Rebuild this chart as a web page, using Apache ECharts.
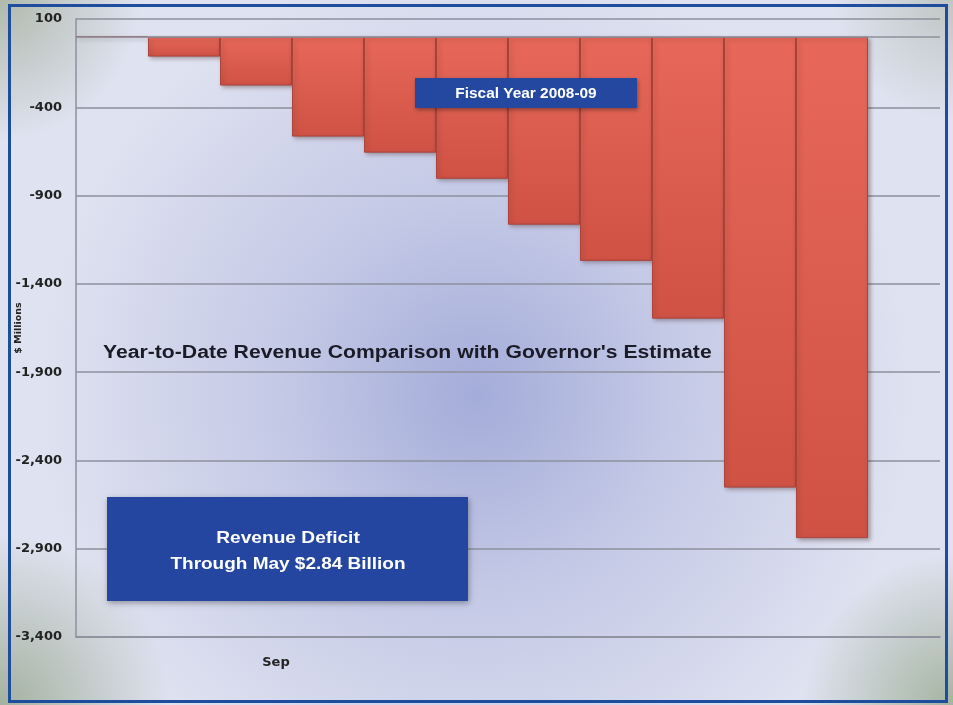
<!DOCTYPE html>
<html>
<head>
<meta charset="utf-8">
<script src="https://cdn.jsdelivr.net/npm/echarts@6/dist/echarts.min.js"></script>
<style>
  html, body { margin: 0; padding: 0; }
  #chart { width: 953px; height: 705px; }
</style>
</head>
<body>
<div id="chart"></div>
<script>
// Fiscal year months, July through June
const months = ['Jul', 'Aug', 'Sep', 'Oct', 'Nov', 'Dec', 'Jan', 'Feb', 'Mar', 'Apr', 'May', 'Jun'];
// Cumulative revenue versus estimate, $ millions (June not yet reported)
const deficit = [0, -113, -277, -566, -657, -805, -1065, -1270, -1597, -2554, -2840, null];
// Value axis range and step
const yMin = -3400, yMax = 100, yStep = 500;
// Month labels shown under the axis
const shownMonths = ['Sep'];

const chart = echarts.init(document.getElementById('chart'), null, { renderer: 'canvas' });

const fmt = v => v.toLocaleString('en-US');
const axisFont = 'DejaVu Sans';
const boxFont = '"Liberation Sans", Arial';

chart.setOption({
  backgroundColor: {
    type: 'radial', x: 0.5, y: 0.56, r: 0.62,
    colorStops: [
      { offset: 0, color: '#a4acd9' },
      { offset: 0.45, color: '#c4c9e6' },
      { offset: 1, color: '#dfe2f0' }
    ]
  },
  animation: false,
  grid: { left: 76, right: 13, top: 19, bottom: 68, containLabel: false, outerBoundsMode: 'none' },
  xAxis: {
    type: 'category',
    data: months,
    axisLine: { onZero: false, lineStyle: { color: '#8c909c', width: 1.5 } },
    axisTick: { show: false },
    axisLabel: {
      interval: 0,
      formatter: v => shownMonths.includes(v) ? v : '',
      padding: [0, 0, 0, 40],
      margin: 19,
      fontFamily: axisFont, fontWeight: 'bold', fontSize: 13, color: '#222'
    },
    splitLine: { show: false }
  },
  yAxis: {
    type: 'value',
    min: yMin, max: yMax, interval: yStep,
    name: '$ Millions',
    nameLocation: 'middle',
    nameRotate: 90,
    nameGap: 52,
    nameMoveOverlap: false,
    nameTextStyle: { fontFamily: axisFont, fontWeight: 'bold', fontSize: 9.5, color: '#222' },
    axisLine: { show: true, lineStyle: { color: '#8c909c', width: 1.5 } },
    axisTick: { show: false },
    axisLabel: {
      formatter: fmt,
      margin: 14,
      fontFamily: axisFont, fontWeight: 'bold', fontSize: 13, color: '#222'
    },
    splitLine: { lineStyle: { color: '#8c909c', width: 1.5 } }
  },
  series: [{
    type: 'bar',
    data: deficit,
    barCategoryGap: '0%',
    itemStyle: {
      color: {
        type: 'linear', x: 0, y: 0, x2: 0, y2: 1,
        colorStops: [
          { offset: 0, color: '#e7685a' },
          { offset: 1, color: '#cf5245' }
        ]
      },
      borderColor: '#a8443a',
      borderWidth: 1,
      shadowBlur: 4,
      shadowOffsetX: 2,
      shadowOffsetY: 2,
      shadowColor: 'rgba(60,30,30,0.35)'
    },
    markLine: {
      silent: true,
      symbol: 'none',
      label: { show: false },
      lineStyle: { color: '#8c909c', width: 1.5, type: 'solid' },
      data: [{ yAxis: 0 }]
    },
    z: 3
  }],
  graphic: [
    // corner vignettes
    { type: 'circle', shape: { cx: 0, cy: 0, r: 140 }, silent: true, z: -1,
      style: { fill: { type: 'radial', x: 0.5, y: 0.5, r: 0.5, colorStops: [
        { offset: 0, color: 'rgba(160,172,150,0.75)' }, { offset: 1, color: 'rgba(160,172,150,0)' } ] } } },
    { type: 'circle', shape: { cx: 0, cy: 705, r: 170 }, silent: true, z: -1,
      style: { fill: { type: 'radial', x: 0.5, y: 0.5, r: 0.5, colorStops: [
        { offset: 0, color: 'rgba(150,165,140,0.8)' }, { offset: 1, color: 'rgba(150,165,140,0)' } ] } } },
    { type: 'circle', shape: { cx: 953, cy: 705, r: 150 }, silent: true, z: -1,
      style: { fill: { type: 'radial', x: 0.5, y: 0.5, r: 0.5, colorStops: [
        { offset: 0, color: 'rgba(150,168,140,0.8)' }, { offset: 1, color: 'rgba(150,168,140,0)' } ] } } },
    { type: 'circle', shape: { cx: 953, cy: 0, r: 120 }, silent: true, z: -1,
      style: { fill: { type: 'radial', x: 0.5, y: 0.5, r: 0.5, colorStops: [
        { offset: 0, color: 'rgba(170,180,165,0.6)' }, { offset: 1, color: 'rgba(170,180,165,0)' } ] } } },
    // outer frame
    { type: 'rect', shape: { x: 9.5, y: 5.5, width: 937, height: 696 }, silent: true, z: 120,
      style: { fill: null, stroke: '#1f4d9e', lineWidth: 3 } },
    // chart caption
    { type: 'text', x: 103, y: 353, z: 100, scaleX: 1.21, originX: 0,
      style: { text: "Year-to-Date Revenue Comparison with Governor's Estimate", fill: '#1b1b28',
        align: 'left', verticalAlign: 'middle', font: 'bold 17.5px ' + boxFont } },
    // fiscal year tag
    { type: 'rect', shape: { x: 415, y: 78, width: 222, height: 30 }, z: 100,
      style: { fill: '#2447a0', shadowBlur: 4, shadowOffsetX: 1, shadowOffsetY: 2, shadowColor: 'rgba(0,0,0,0.35)' } },
    { type: 'text', x: 526, y: 94, z: 101, scaleX: 1.1, originX: 0,
      style: { text: 'Fiscal Year 2008-09', fill: '#ffffff', align: 'center', verticalAlign: 'middle',
        font: 'bold 14px ' + boxFont } },
    // deficit summary box
    { type: 'rect', shape: { x: 107, y: 497, width: 361, height: 104 }, z: 100,
      style: { fill: '#2446a0', shadowBlur: 6, shadowOffsetX: 1, shadowOffsetY: 2, shadowColor: 'rgba(0,0,0,0.35)' } },
    { type: 'text', x: 288, y: 538, z: 101, scaleX: 1.16, originX: 0,
      style: { text: 'Revenue Deficit', fill: '#ffffff', align: 'center', verticalAlign: 'middle',
        font: 'bold 16.5px ' + boxFont } },
    { type: 'text', x: 288, y: 564, z: 101, scaleX: 1.15, originX: 0,
      style: { text: 'Through May $2.84 Billion', fill: '#ffffff', align: 'center', verticalAlign: 'middle',
        font: 'bold 16.5px ' + boxFont } }
  ]
});
</script>
</body>
</html>
